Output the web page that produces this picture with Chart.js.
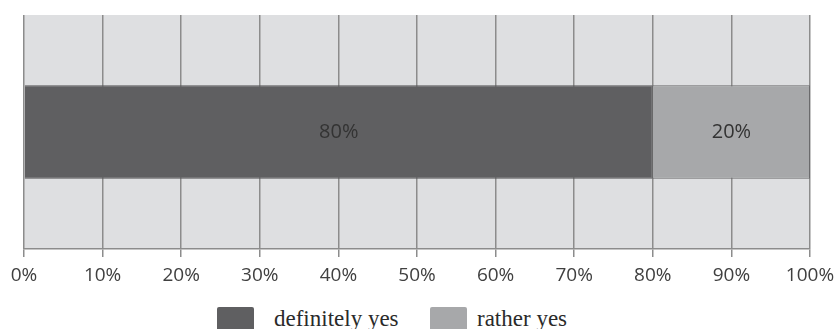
<!DOCTYPE html>
<html>
<head>
<meta charset="utf-8">
<script src="https://cdn.jsdelivr.net/npm/chart.js@4"></script>
<style>
  html, body { margin: 0; padding: 0; background: #fff; overflow: hidden; }
  #wrap { width: 837px; height: 329px; position: relative; overflow: hidden; }
  #plot { position: absolute; left: 0; top: 0; width: 837px; height: 300px; }
  #legend { position: absolute; left: 0; top: 307px; width: 837px; height: 40px;
            font-family: "Liberation Serif", "DejaVu Serif", serif; font-size: 23px; color: #2a2a2a; }
  .box { position: absolute; top: 0; width: 37px; height: 24px; border-radius: 2px; }
  .txt { position: absolute; top: -1px; line-height: 26px; white-space: nowrap; }
</style>
</head>
<body>
<div id="wrap">
  <div id="plot"><canvas id="chart"></canvas></div>
  <div id="legend"></div>
</div>
<script>
const categories = [''];
const seriesNames = ['definitely yes', 'rather yes'];
const definitelyYes = [80];
const ratherYes = [20];
const xTicks = [0, 10, 20, 30, 40, 50, 60, 70, 80, 90, 100];
const seriesColors = ['#5f5f61', '#a7a8aa'];

// grey plot background
const plotBg = {
  id: 'plotBg',
  beforeDraw(chart) {
    const { ctx, chartArea: a } = chart;
    ctx.save();
    ctx.fillStyle = '#dedfe1';
    ctx.fillRect(a.left, a.top, a.right - a.left, a.bottom - a.top);
    ctx.restore();
  }
};

// value labels in the middle of each segment
const barLabels = {
  id: 'barLabels',
  afterDatasetsDraw(chart) {
    const { ctx } = chart;
    ctx.save();
    ctx.font = '20px "Open Sans", sans-serif';
    ctx.fillStyle = '#333333';
    ctx.textAlign = 'center';
    ctx.textBaseline = 'middle';
    chart.data.datasets.forEach((ds, i) => {
      chart.getDatasetMeta(i).data.forEach((bar, j) => {
        const x = (bar.x + bar.base) / 2;
        ctx.fillText(ds.data[j] + '%', x, bar.y);
      });
    });
    ctx.restore();
  }
};

new Chart(document.getElementById('chart'), {
  type: 'bar',
  data: {
    labels: categories,
    datasets: [
      {
        label: seriesNames[0],
        data: definitelyYes,
        backgroundColor: seriesColors[0],
        borderColor: '#555557',
        borderWidth: 1,
        barPercentage: 0.4,
        categoryPercentage: 1
      },
      {
        label: seriesNames[1],
        data: ratherYes,
        backgroundColor: seriesColors[1],
        borderColor: '#6a6a6c',
        borderWidth: 1,
        barPercentage: 0.4,
        categoryPercentage: 1
      }
    ]
  },
  options: {
    indexAxis: 'y',
    responsive: true,
    maintainAspectRatio: false,
    animation: false,
    layout: { padding: { left: 24, right: 27, top: 15, bottom: 0 } },
    scales: {
      x: {
        stacked: true,
        min: 0,
        max: 100,
        afterBuildTicks(axis) {
          axis.ticks = xTicks.map(v => ({ value: v }));
        },
        afterFit(axis) {
          axis.height = 51;
          // let the end labels hang over the padding, like the original
          axis.paddingLeft = 0;
          axis.paddingRight = 0;
        },
        grid: {
          color: '#8c8c8c',
          lineWidth: 1.5,
          tickLength: 8
        },
        border: { display: true, color: '#8c8c8c', width: 1.5 },
        ticks: {
          padding: 7,
          color: '#404040',
          maxRotation: 0,
          font: { family: '"Open Sans", sans-serif', size: 19 },
          callback: v => v + '%'
        }
      },
      y: {
        stacked: true,
        display: false
      }
    },
    plugins: {
      legend: { display: false },
      tooltip: { enabled: false }
    }
  },
  plugins: [plotBg, barLabels]
});

// legend below the chart, built from the series names and colours
const legendSlots = [{ box: 217, text: 274 }, { box: 430, text: 477 }];
const legendEl = document.getElementById('legend');
seriesNames.forEach((name, i) => {
  const box = document.createElement('div');
  box.className = 'box';
  box.style.left = legendSlots[i].box + 'px';
  box.style.background = seriesColors[i];
  const txt = document.createElement('div');
  txt.className = 'txt';
  txt.style.left = legendSlots[i].text + 'px';
  txt.textContent = name;
  legendEl.appendChild(box);
  legendEl.appendChild(txt);
});
</script>
</body>
</html>
